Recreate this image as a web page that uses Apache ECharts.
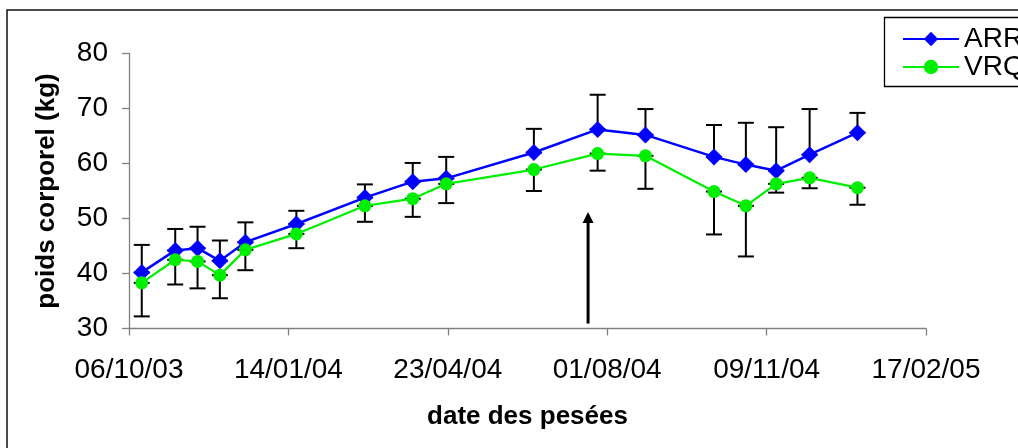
<!DOCTYPE html>
<html>
<head>
<meta charset="utf-8">
<title>poids corporel</title>
<script src="https://cdn.jsdelivr.net/npm/echarts@6/dist/echarts.min.js"></script>
<style>
  html, body { margin: 0; padding: 0; background: #fff; }
  #chart { width: 1018px; height: 448px; }
</style>
</head>
<body>
<div id="chart"></div>
<script>
// Weighing dates (dd/mm/yy)
const dates = ['14/10/03','04/11/03','18/11/03','02/12/03','18/12/03','19/01/04','02/03/04','01/04/04',
               '22/04/04','16/06/04','26/07/04','25/08/04','07/10/04','27/10/04','15/11/04','06/12/04','05/01/05'];
// Mean body weight (kg) per genotype
const arr = [40.2, 44.2, 44.6, 42.3, 45.7, 49.0, 53.8, 56.7, 57.3, 62.0, 66.2, 65.2, 61.2, 59.8, 58.7, 61.6, 65.6];
const vrq = [38.3, 42.5, 42.2, 39.7, 44.3, 47.2, 52.3, 53.6, 56.3, 58.9, 61.8, 61.4, 54.9, 52.3, 56.3, 57.4, 55.6];
// Standard deviations: drawn upward for ARR, downward for VRQ
const arrSd = [5.0, 3.9, 3.9, 3.7, 3.6, 2.4, 2.4, 3.4, 3.9, 4.3, 6.3, 4.7, 5.8, 7.6, 7.9, 8.3, 3.6];
const vrqSd = [6.1, 4.5, 4.9, 4.2, 3.7, 2.6, 2.9, 3.3, 3.5, 3.9, 3.1, 6.0, 7.8, 9.2, 1.6, 1.9, 3.1];
// Axis settings
const xStart = '06/10/03';
const xEnd = '17/02/05';
const xStepDays = 100;
const yMin = 30, yMax = 80, yStep = 10;
// Arrow marking an event: date, from weight, to weight
const arrowDate = '20/07/04';
const arrowFrom = 30.9, arrowTo = 51.2;

const DAY = 86400000;
function parseDate(s) {
  const [d, m, y] = s.split('/').map(Number);
  return Date.UTC(2000 + y, m - 1, d);
}
const base = parseDate(xStart);
function toDay(s) { return Math.round((parseDate(s) - base) / DAY); }
function pad(n) { return (n < 10 ? '0' : '') + n; }
function dayLabel(v) {
  const dt = new Date(base + v * DAY);
  return pad(dt.getUTCDate()) + '/' + pad(dt.getUTCMonth() + 1) + '/' + pad(dt.getUTCFullYear() % 100);
}

const xs = dates.map(toDay);
const arrData = xs.map((x, i) => [x, arr[i]]);
const vrqData = xs.map((x, i) => [x, vrq[i]]);
const errData = xs.map((x, i) => [x, arr[i], arr[i] + arrSd[i]])
  .concat(xs.map((x, i) => [x, vrq[i] - vrqSd[i], vrq[i]]));
const arrowData = [[toDay(arrowDate), arrowFrom, arrowTo]];

const FONT = '"Liberation Sans", Arial, sans-serif';
const chart = echarts.init(document.getElementById('chart'), null, { renderer: 'canvas' });

// Vertical error bar with caps at both ends
function renderErr(params, api) {
  const x = api.value(0);
  const lo = api.coord([x, api.value(1)]);
  const hi = api.coord([x, api.value(2)]);
  const half = 8;
  const style = { stroke: '#000', lineWidth: 2 };
  return {
    type: 'group',
    children: [
      { type: 'line', shape: { x1: lo[0], y1: lo[1], x2: hi[0], y2: hi[1] }, style },
      { type: 'line', shape: { x1: lo[0] - half, y1: lo[1], x2: lo[0] + half, y2: lo[1] }, style },
      { type: 'line', shape: { x1: hi[0] - half, y1: hi[1], x2: hi[0] + half, y2: hi[1] }, style }
    ]
  };
}

// Upward arrow with a filled head
function renderArrow(params, api) {
  const x = api.value(0);
  const p0 = api.coord([x, api.value(1)]);
  const p1 = api.coord([x, api.value(2)]);
  const hw = 5.5, hh = 11;
  return {
    type: 'group',
    children: [
      { type: 'line', shape: { x1: p0[0], y1: p0[1], x2: p1[0], y2: p1[1] + hh - 1 },
        style: { stroke: '#000', lineWidth: 3 } },
      { type: 'polygon', shape: { points: [[p1[0], p1[1]], [p1[0] - hw, p1[1] + hh], [p1[0] + hw, p1[1] + hh]] },
        style: { fill: '#000' } }
    ]
  };
}

chart.setOption({
  animation: false,
  backgroundColor: '#fff',
  textStyle: { fontFamily: FONT },
  graphic: [
    { type: 'rect', shape: { x: 7, y: 10, width: 1100, height: 500 },
      style: { fill: 'none', stroke: '#111', lineWidth: 1.5 }, z: 0 },
    { type: 'rect', shape: { x: 884.5, y: 17.5, width: 200, height: 69 },
      style: { fill: '#fff', stroke: '#000', lineWidth: 1.3 }, z: 1 }
  ],
  grid: { left: 129, top: 53.5, right: 92, bottom: 119.5, containLabel: false },
  legend: {
    orient: 'vertical',
    left: 897, top: 20,
    itemWidth: 56, itemHeight: 18, itemGap: 0,
    textStyle: { fontFamily: FONT, fontSize: 28, color: '#000', lineHeight: 28 },
    data: ['ARR', 'VRQ'],
    z: 5
  },
  xAxis: {
    type: 'value',
    min: 0, max: toDay(xEnd), interval: xStepDays,
    name: 'date des pesées',
    nameLocation: 'middle', nameGap: 75,
    nameTextStyle: { fontFamily: FONT, fontSize: 26, fontWeight: 'bold', color: '#000' },
    axisLine: { show: true, lineStyle: { color: '#808080', width: 1.3 } },
    axisTick: { show: true, inside: false, length: 7, lineStyle: { color: '#808080', width: 1.3 } },
    axisLabel: { fontFamily: FONT, fontSize: 28, color: '#000', margin: 28, formatter: dayLabel },
    splitLine: { show: false }
  },
  yAxis: {
    type: 'value',
    min: yMin, max: yMax, interval: yStep,
    name: 'poids corporel (kg)',
    nameLocation: 'middle', nameGap: 69,
    nameTextStyle: { fontFamily: FONT, fontSize: 26, fontWeight: 'bold', color: '#000' },
    axisLine: { show: true, lineStyle: { color: '#808080', width: 1.3 } },
    axisTick: { show: true, inside: false, length: 7, lineStyle: { color: '#808080', width: 1.3 } },
    axisLabel: { fontFamily: FONT, fontSize: 28, color: '#000', margin: 21 },
    splitLine: { show: false }
  },
  series: [
    {
      name: 'errors', type: 'custom', renderItem: renderErr,
      data: errData, encode: { x: 0, y: [1, 2] }, z: 2, silent: true
    },
    {
      name: 'arrow', type: 'custom', renderItem: renderArrow,
      data: arrowData, encode: { x: 0, y: [1, 2] }, z: 2, silent: true
    },
    {
      name: 'ARR', type: 'line', data: arrData,
      symbol: 'diamond', symbolSize: 17, showAllSymbol: true,
      lineStyle: { color: '#0000ff', width: 2.5 },
      itemStyle: { color: '#0000ff' }, z: 3
    },
    {
      name: 'VRQ', type: 'line', data: vrqData,
      symbol: 'circle', symbolSize: 13, showAllSymbol: true,
      lineStyle: { color: '#00ee00', width: 2.2 },
      itemStyle: { color: '#00ee00' }, z: 4
    }
  ]
});
</script>
</body>
</html>
